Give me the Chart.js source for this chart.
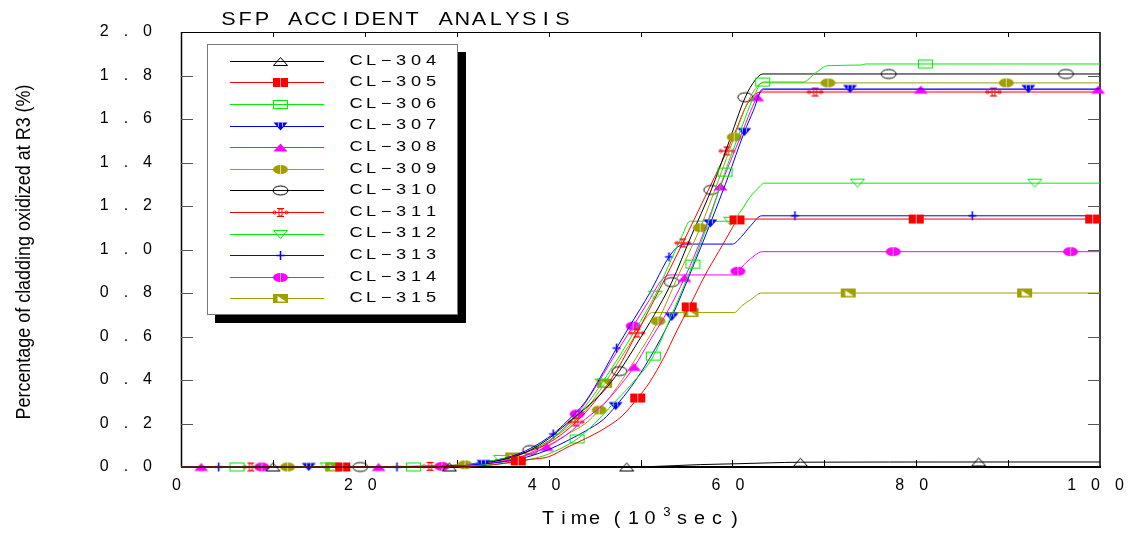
<!DOCTYPE html>
<html>
<head>
<meta charset="utf-8">
<script src="https://cdn.jsdelivr.net/npm/chart.js@4.4.1/dist/chart.umd.min.js"></script>
<style>
  html, body { margin: 0; padding: 0; background: #fff; }
  #wrap { width: 1139px; height: 533px; position: relative; }
</style>
</head>
<body>
<div id="wrap"><canvas id="c" width="1139" height="533"></canvas></div>
<script>
// ---- data: time (10^3 s) vs. percentage of cladding oxidized at R3 ----
const seriesNames = ['CL-304','CL-305','CL-306','CL-307','CL-308','CL-309',
                     'CL-310','CL-311','CL-312','CL-313','CL-314','CL-315'];

const cl304 = [[0,0],[10,0],[29.2,0],[48.5,0],[50.5,0.001],[53,0.005],[56.5,0.011],[60.5,0.015],[64,0.019],[67.4,0.022],[86.8,0.023],[100,0.023]];
const cl305 = [[0,0],[17.6,0],[30,0.002],[34,0.01],[36.7,0.028],[38,0.035],[40,0.047],[42,0.09],[44,0.13],[46,0.175],[48,0.235],[49.7,0.317],[51,0.39],[52.5,0.5],[54,0.63],[55.3,0.736],[57,0.88],[58.5,0.99],[60,1.1],[60.5,1.136],[61.2,1.14],[80,1.14],[99.2,1.14],[100,1.14]];
const cl306 = [[0,0],[6.1,0],[25.3,0],[30,0.003],[34,0.012],[36,0.02],[38,0.035],[40,0.06],[43.1,0.129],[45,0.2],[47,0.29],[49,0.38],[51.4,0.51],[53.5,0.71],[55.7,0.933],[57.5,1.14],[59.2,1.356],[61,1.56],[62.3,1.7],[63.3,1.77],[67.7,1.77],[69,1.81],[70.4,1.845],[74,1.848],[74.5,1.853],[81,1.853],[100,1.853]];
const cl307 = [[0,0],[13.9,0],[30,0.005],[32.9,0.014],[36,0.03],[38,0.05],[40,0.08],[42,0.12],[44,0.165],[46,0.22],[47.3,0.28],[49,0.37],[51,0.5],[53.4,0.69],[55.5,0.9],[57.6,1.12],[59.5,1.33],[61.3,1.54],[62.3,1.64],[63.3,1.738],[72.8,1.738],[92.2,1.738],[100,1.738]];
const cl308 = [[0,0],[2.2,0],[21.5,0],[30,0.005],[34,0.02],[36,0.035],[38,0.06],[39.8,0.092],[42,0.15],[44,0.22],[46,0.29],[47.5,0.36],[49.3,0.46],[51,0.58],[53,0.72],[54.8,0.869],[56.8,1.07],[58.7,1.29],[60.7,1.5],[62.7,1.7],[63.5,1.735],[80.5,1.735],[99.8,1.735],[100,1.735]];
const cl309 = [[0,0],[11.6,0],[30.9,0.01],[34,0.02],[36,0.035],[38,0.06],[40,0.1],[42,0.15],[44,0.2],[45.5,0.262],[47.5,0.37],[49.5,0.5],[51.9,0.671],[54,0.87],[56.5,1.1],[58.5,1.32],[60.2,1.517],[61.5,1.66],[62.5,1.74],[63.3,1.766],[70.4,1.766],[89.8,1.766],[100,1.766]];
const cl310 = [[0,0],[19.5,0],[30,0.005],[34,0.025],[36,0.045],[38,0.078],[40,0.13],[42,0.2],[44,0.27],[46,0.35],[47.7,0.441],[49.5,0.56],[51.5,0.7],[53.4,0.85],[55.5,1.06],[57.7,1.274],[59.5,1.48],[61.4,1.7],[62.5,1.78],[63.3,1.807],[77,1.807],[96.3,1.807],[100,1.807]];
const cl311 = [[0,0],[7.6,0],[27.1,0.003],[30,0.008],[34,0.025],[36,0.045],[38,0.075],[40,0.11],[43,0.207],[45,0.3],[47.5,0.45],[49.6,0.616],[52,0.81],[54.6,1.03],[57,1.24],[59.4,1.453],[60.5,1.56],[61.5,1.66],[62.5,1.715],[63.3,1.724],[69,1.724],[88.4,1.724],[100,1.724]];
const cl312 = [[0,0],[15.9,0],[30,0.008],[34.8,0.035],[36,0.045],[38,0.075],[40,0.12],[42,0.19],[44,0.28],[45.8,0.386],[48,0.53],[50,0.67],[51.6,0.79],[53,0.92],[54.5,1.06],[55.4,1.13],[59.8,1.13],[60.8,1.17],[61.9,1.24],[63,1.29],[63.4,1.305],[73.6,1.305],[92.9,1.305],[100,1.305]];
const cl313 = [[0,0],[4.1,0],[23.5,0],[30,0.008],[34,0.03],[36,0.05],[38,0.085],[40.5,0.152],[42,0.21],[44,0.3],[46,0.44],[47.4,0.547],[49,0.66],[51,0.8],[53.1,0.966],[54,1.01],[54.8,1.025],[60,1.025],[61,1.06],[62,1.11],[63.2,1.155],[66.8,1.155],[86.1,1.155],[100,1.155]];
const cl314 = [[0,0],[8.8,0],[28.4,0.003],[30,0.006],[34,0.02],[36,0.035],[38,0.065],[40,0.115],[43.1,0.244],[45,0.36],[47,0.5],[49.2,0.648],[51,0.77],[52.3,0.86],[53.2,0.883],[60,0.883],[60.6,0.9],[61.5,0.94],[62.5,0.975],[63.2,0.99],[77.5,0.99],[96.8,0.99],[100,0.99]];
const cl315 = [[0,0],[16.5,0],[30,0.005],[34,0.025],[36.1,0.046],[38,0.075],[40,0.12],[42,0.18],[44,0.26],[46.1,0.385],[48,0.51],[49.5,0.61],[50.5,0.68],[51.3,0.71],[55.5,0.71],[60.2,0.71],[61,0.74],[62,0.77],[63.2,0.8],[72.6,0.8],[91.8,0.8],[100,0.8]];

// x positions where each curve carries its symbol
const marks304 = [10, 29.2, 48.5, 67.4, 86.8];
const marks305 = [17.6, 36.7, 49.7, 55.3, 60.5, 80, 99.2];
const marks306 = [6.1, 25.3, 43.1, 51.4, 55.7, 59.2, 63.3, 81];
const marks307 = [13.9, 32.9, 47.3, 53.4, 57.6, 61.3, 72.8, 92.2];
const marks308 = [2.2, 21.5, 39.8, 49.3, 54.8, 58.7, 62.7, 80.5, 99.8];
const marks309 = [11.6, 30.9, 45.5, 51.9, 56.5, 60.2, 70.4, 89.8];
const marks310 = [19.5, 38, 47.7, 53.4, 57.7, 61.4, 77, 96.3];
const marks311 = [7.6, 27.1, 43, 49.6, 54.6, 59.4, 69, 88.4];
const marks312 = [15.9, 34.8, 45.8, 51.6, 59.8, 73.6, 92.9];
const marks313 = [4.1, 23.5, 40.5, 47.4, 53.1, 66.8, 86.1];
const marks314 = [8.8, 28.4, 43.1, 49.2, 60.6, 77.5, 96.8];
const marks315 = [16.5, 36.1, 46.1, 55.5, 72.6, 91.8];

const xTickLabels = ['0','','20','','40','','60','','80','','100'];
const yTickLabels = ['0.0','0.2','0.4','0.6','0.8','1.0','1.2','1.4','1.6','1.8','2.0'];

const seriesPoints = [cl304, cl305, cl306, cl307, cl308, cl309, cl310, cl311, cl312, cl313, cl314, cl315];
const seriesMarks  = [marks304, marks305, marks306, marks307, marks308, marks309, marks310, marks311, marks312, marks313, marks314, marks315];

// ---- styling ----
const OLIVE = '#a09e00';
const seriesColors = ['#000000','#ff0000','#00ee00','#0000ff','#ff00ff',OLIVE,
                      '#000000','#ff0000','#00ee00','#0000ff','#ff00ff',OLIVE];
const markerKinds = ['triOpen','rectFill','rectOpen','triDownFill','triFill','ellFill',
                     'ellOpen','ibeam','triDownOpen','plus','ellFill','rectHalf'];

function makeMarker(kind, color) {
  const c = document.createElement('canvas');
  c.width = 19; c.height = 13;
  const g = c.getContext('2d');
  const cx = 9.5, cy = 6.5;
  g.strokeStyle = color; g.fillStyle = color; g.lineWidth = 1;
  const tri = (down) => {
    g.beginPath();
    if (down) { g.moveTo(cx - 7, cy - 4); g.lineTo(cx + 7, cy - 4); g.lineTo(cx, cy + 4); }
    else { g.moveTo(cx - 7, cy + 4); g.lineTo(cx + 7, cy + 4); g.lineTo(cx, cy - 4); }
    g.closePath();
  };
  const ell = () => { g.beginPath(); g.ellipse(cx, cy, 7.5, 4.5, 0, 0, Math.PI * 2); };
  switch (kind) {
    case 'triOpen': tri(false); g.stroke(); break;
    case 'triFill': tri(false); g.fill(); break;
    case 'triDownOpen': tri(true); g.stroke(); break;
    case 'triDownFill':
      tri(true); g.fill();
      g.strokeStyle = 'rgba(255,255,255,0.7)';
      g.beginPath(); g.moveTo(cx - 2, cy - 4); g.lineTo(cx - 2, cy); g.moveTo(cx + 2, cy - 4); g.lineTo(cx + 2, cy); g.stroke();
      break;
    case 'rectOpen': g.strokeRect(cx - 7, cy - 4, 14, 8); break;
    case 'rectFill':
      g.fillRect(cx - 7.5, cy - 4.5, 15, 9);
      g.strokeStyle = 'rgba(255,255,255,0.6)';
      g.beginPath(); g.moveTo(cx, cy - 4.5); g.lineTo(cx, cy + 4.5); g.stroke();
      break;
    case 'rectHalf':
      g.fillRect(cx - 7.5, cy - 4.5, 15, 9);
      g.fillStyle = '#ffffff';
      g.beginPath(); g.moveTo(cx - 3, cy - 2.5); g.lineTo(cx + 5.5, cy + 3); g.lineTo(cx - 3, cy + 3); g.closePath(); g.fill();
      break;
    case 'ellOpen': ell(); g.stroke(); break;
    case 'ellFill':
      ell(); g.fill();
      g.strokeStyle = 'rgba(255,255,255,0.6)';
      g.beginPath(); g.moveTo(cx, cy - 4.5); g.lineTo(cx, cy + 4.5); g.stroke();
      break;
    case 'plus':
      g.lineWidth = 1.5;
      g.beginPath(); g.moveTo(cx, cy - 4.5); g.lineTo(cx, cy + 4.5); g.moveTo(cx - 4, cy); g.lineTo(cx + 4, cy); g.stroke();
      break;
    case 'ibeam':
      g.strokeRect(cx - 1.5, cy - 3.5, 3, 7);
      g.beginPath();
      g.moveTo(cx - 3.5, cy - 4); g.lineTo(cx + 3.5, cy - 4);
      g.moveTo(cx - 3.5, cy + 4); g.lineTo(cx + 3.5, cy + 4);
      g.moveTo(cx - 8, cy); g.lineTo(cx + 8, cy);
      g.stroke();
      g.beginPath(); g.arc(cx - 6, cy, 1.6, 0, Math.PI * 2); g.stroke();
      g.beginPath(); g.arc(cx + 6, cy, 1.6, 0, Math.PI * 2); g.stroke();
      break;
  }
  return c;
}

const markerImgs = markerKinds.map((k, i) => makeMarker(k, seriesColors[i]));

const datasets = seriesNames.map((name, i) => ({
  label: name,
  data: seriesPoints[i].map(([x, y]) => ({ x, y })),
  borderColor: seriesColors[i],
  backgroundColor: seriesColors[i],
  borderWidth: 1,
  cubicInterpolationMode: 'monotone',
  pointStyle: markerImgs[i],
  pointRadius: (c) => (c.raw && seriesMarks[i].includes(c.raw.x)) ? 5 : 0,
  pointHoverRadius: 0,
  fill: false,
  clip: false
}));

// draw a string one glyph per fixed-width cell, stretched horizontally
function cellText(ctx, str, firstCenter, pitch, y, font, sx) {
  ctx.save();
  ctx.font = font;
  ctx.fillStyle = '#000';
  ctx.textAlign = 'center';
  ctx.textBaseline = 'middle';
  for (let i = 0; i < str.length; i++) {
    let ch = str[i];
    if (ch === ' ') continue;
    if (ch === '-') ch = '\u2212';
    ctx.save();
    ctx.translate(firstCenter + i * pitch, y);
    ctx.scale(sx, 1);
    ctx.fillText(ch, 0, 0);
    ctx.restore();
  }
  ctx.restore();
}

const framePlugin = {
  id: 'frameAndDecor',
  beforeDraw(chart) {
    chart.ctx.letterSpacing = '15px';
  },
  beforeDatasetsDraw(chart) {
    const ctx = chart.ctx;
    ctx.letterSpacing = '0px';
    const a = chart.chartArea;
    const xs = chart.scales.x, ys = chart.scales.y;
    ctx.save();
    ctx.strokeStyle = '#000';
    // frame
    ctx.lineWidth = 1;
    ctx.beginPath(); ctx.moveTo(a.left, a.top + 0.5); ctx.lineTo(a.right, a.top + 0.5); ctx.stroke();
    ctx.lineWidth = 1.5;
    ctx.beginPath(); ctx.moveTo(a.left + 0.5, a.top); ctx.lineTo(a.left + 0.5, a.bottom); ctx.stroke();
    ctx.beginPath(); ctx.moveTo(a.right, a.top); ctx.lineTo(a.right, a.bottom); ctx.stroke();
    ctx.lineWidth = 2;
    ctx.beginPath(); ctx.moveTo(a.left, a.bottom); ctx.lineTo(a.right + 1, a.bottom); ctx.stroke();
    // inward tick marks
    ctx.lineWidth = 1;
    xs.ticks.forEach(t => {
      if (t.value <= xs.min || t.value >= xs.max) return;
      const px = Math.round(xs.getPixelForValue(t.value)) + 0.5;
      ctx.strokeStyle = '#000';
      ctx.beginPath(); ctx.moveTo(px, a.bottom); ctx.lineTo(px, a.bottom - 7); ctx.stroke();
      ctx.beginPath(); ctx.moveTo(px, a.top); ctx.lineTo(px, a.top + 5); ctx.stroke();
    });
    ys.ticks.forEach(t => {
      if (t.value <= ys.min + 1e-9 || t.value >= ys.max - 1e-9) return;
      const py = Math.round(ys.getPixelForValue(t.value)) + 0.5;
      ctx.strokeStyle = '#555';
      ctx.beginPath(); ctx.moveTo(a.right, py); ctx.lineTo(a.right - 12, py); ctx.stroke();
      ctx.beginPath(); ctx.moveTo(a.left, py); ctx.lineTo(a.left + 12, py); ctx.stroke();
    });
    ctx.restore();
  },
  afterDatasetsDraw(chart) {
    const ctx = chart.ctx;
    ctx.letterSpacing = '0px';
    // legend box with drop shadow
    const bx = 207, by = 44, bw = 251, bh = 271;
    ctx.save();
    ctx.fillStyle = '#000';
    ctx.fillRect(bx + 8, by + 8, bw, bh);
    ctx.fillStyle = '#fff';
    ctx.fillRect(bx, by, bw, bh);
    ctx.strokeStyle = '#777';
    ctx.lineWidth = 1;
    ctx.strokeRect(bx + 0.5, by + 0.5, bw - 1, bh - 1);
    chart.data.datasets.forEach((ds, i) => {
      const y = 60.7 + i * 21.6;
      ctx.strokeStyle = ds.borderColor;
      ctx.lineWidth = 1;
      ctx.beginPath(); ctx.moveTo(230, Math.round(y) + 0.5); ctx.lineTo(324, Math.round(y) + 0.5); ctx.stroke();
      const img = ds.pointStyle;
      ctx.drawImage(img, Math.round(280 - img.width / 2), Math.round(y + 0.5 - img.height / 2));
      cellText(ctx, ds.label, 356, 15, y, '14px "Liberation Sans", Arial, sans-serif', 1.3);
    });
    ctx.restore();
  },
  afterDraw(chart) {
    const ctx = chart.ctx;
    ctx.letterSpacing = '0px';
    // title
    cellText(ctx, 'SFP ACCIDENT ANALYSIS', 228.5, 16.7, 20, '18px "Liberation Sans", Arial, sans-serif', 1.2);
    // x axis title
    const f = '18px "Liberation Sans", Arial, sans-serif';
    cellText(ctx, 'Time', 548, 15.5, 519, f, 1.1);
    cellText(ctx, '(10', 617, 16.5, 519, f, 1.1);
    cellText(ctx, '3', 667, 10, 513, '12px "Liberation Sans", Arial, sans-serif', 1.1);
    cellText(ctx, 'sec)', 682, 17.5, 519, f, 1.1);
    // y axis title
    ctx.save();
    ctx.fillStyle = '#000';
    ctx.translate(24, 252);
    ctx.rotate(-Math.PI / 2);
    ctx.font = '20px "Liberation Sans Narrow", "Liberation Sans", Arial, sans-serif';
    ctx.textAlign = 'center';
    ctx.textBaseline = 'middle';
    const label = 'Percentage of cladding oxidized at R3 (%)';
    const w = ctx.measureText(label).width;
    ctx.scale(335 / w, 1);
    ctx.fillText(label, 0, 0);
    ctx.restore();
  }
};

new Chart(document.getElementById('c'), {
  type: 'line',
  data: { datasets },
  plugins: [framePlugin],
  options: {
    responsive: false,
    animation: false,
    devicePixelRatio: 1,
    events: [],
    layout: { padding: { top: 32, right: 39, left: 0, bottom: 0 } },
    plugins: { legend: { display: false }, title: { display: false }, tooltip: { enabled: false } },
    scales: {
      x: {
        type: 'linear', min: 0, max: 100,
        ticks: {
          stepSize: 10, autoSkip: false, maxRotation: 0, color: '#000', padding: 9, labelOffset: 3,
          font: { family: '"Liberation Sans", Arial, sans-serif', size: 16 },
          callback: (v, i) => xTickLabels[i]
        },
        grid: { display: false, drawTicks: false },
        border: { display: false },
        afterFit: (s) => { s.height = 66; }
      },
      y: {
        type: 'linear', min: 0, max: 2,
        ticks: {
          stepSize: 0.2, color: '#000', padding: 14,
          font: { family: '"Liberation Sans", Arial, sans-serif', size: 16 },
          callback: (v, i) => yTickLabels[i]
        },
        grid: { display: false, drawTicks: false },
        border: { display: false },
        afterFit: (s) => { s.width = 181; }
      }
    }
  }
});
</script>
</body>
</html>
